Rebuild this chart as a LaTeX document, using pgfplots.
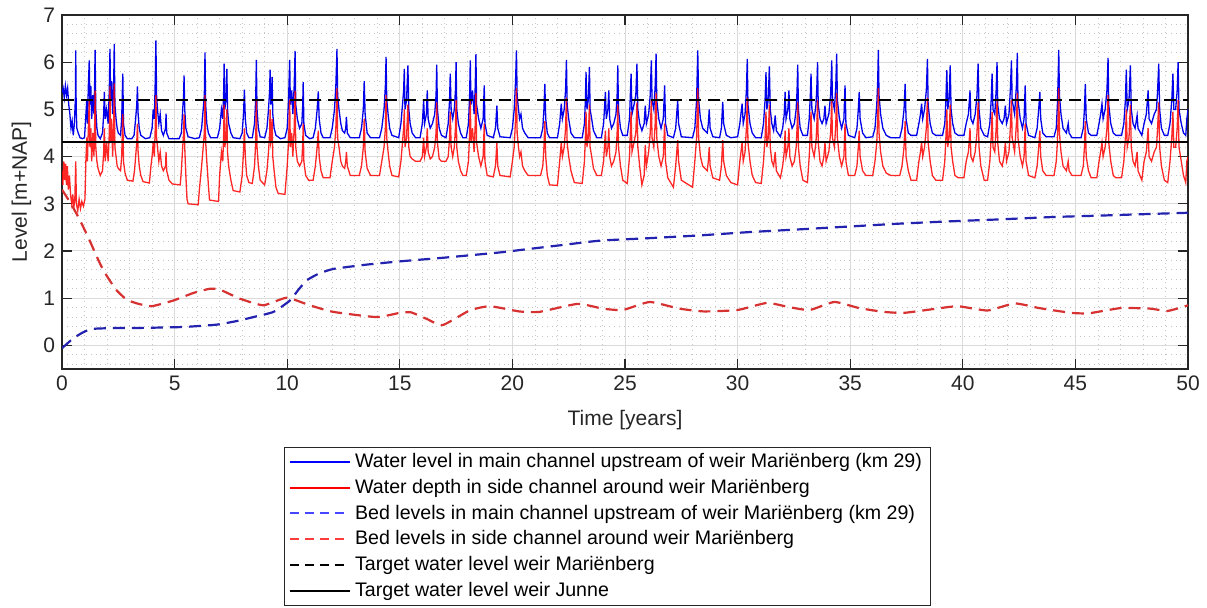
\documentclass[border=0pt]{standalone}
\usepackage{pgfplots}
\pgfplotsset{compat=1.18}
\usepackage{fontspec}
\setmainfont{Liberation Sans}
\definecolor{axgray}{RGB}{38,38,38}
\definecolor{gridgray}{RGB}{218,218,218}
\definecolor{mblue}{RGB}{0,0,235}
\definecolor{mred}{RGB}{255,0,0}
\definecolor{dblue}{RGB}{35,35,175}
\definecolor{dred}{RGB}{215,50,50}
\definecolor{lblue}{RGB}{70,70,255}
\definecolor{lred}{RGB}{255,60,60}
\begin{document}
\begin{tikzpicture}
\begin{axis}[
  name=ax,
  scale only axis,
  width=563pt, height=177pt,
  xmin=0, xmax=50, ymin=-0.5, ymax=7,
  xtick={0,5,...,50}, ytick={0,1,...,7},
  minor xtick={1,2,3,4,6,7,8,9,11,12,13,14,16,17,18,19,21,22,23,24,26,27,28,29,31,32,33,34,36,37,38,39,41,42,43,44,46,47,48,49},
  minor ytick={-0.4,-0.2,0.2,0.4,0.6,0.8,1.2,1.4,1.6,1.8,2.2,2.4,2.6,2.8,3.2,3.4,3.6,3.8,4.2,4.4,4.6,4.8,5.2,5.4,5.6,5.8,6.2,6.4,6.6,6.8},
  grid=both,
  major grid style={gridgray, line width=0.5pt},
  minor grid style={gray!45, dotted, line width=0.4pt},
  tick align=inside,
  major tick length=5pt, minor tick length=0pt,
  axis line style={axgray, line width=0.6pt},
  every tick/.style={axgray, line width=0.6pt},
  tick label style={font=\fontsize{10.5}{12}\selectfont, text=axgray},
  /pgf/number format/assume math mode=true,
  xlabel={Time [years]}, ylabel={Level [m+NAP]},
  label style={font=\fontsize{10.5}{12}\selectfont, text=axgray},
  xlabel style={at={(axis description cs:0.5,-0.144)}, anchor=center},
  ylabel style={at={(axis description cs:-0.036,0.5)}, anchor=center},
  legend style={at={(0.4845,-0.22)}, anchor=north, draw=axgray, line width=0.5pt,
    font=\fontsize{9.8}{11}\selectfont, row sep=0pt,
    nodes={inner sep=2.15pt}, inner xsep=2pt, inner ysep=0.8pt},
  legend cell align=left,
  legend image code/.code={\draw[#1] (0pt,0pt) -- (30pt,0pt);},
]
% Water level main channel
\addplot[mblue, line width=0.65pt, forget plot] coordinates {
(0,5.35) (0.05,5.45) (0.1,5.25) (0.15,5.5) (0.2,5.3) (0.25,5.45) (0.3,5.1) (0.35,4.9) (0.4,4.6) (0.45,4.75) (0.5,4.45) (0.55,4.7) (0.6,5.3) (0.61,6.25) (0.63,5.0) (0.66,4.6) (0.72,4.5) (0.8,4.4) (0.9,4.38)
(1.0,4.4) (1.05,4.8) (1.1,5.2) (1.13,4.7) (1.17,5.5) (1.21,6.04) (1.24,5.1) (1.28,5.5) (1.32,4.8) (1.37,5.3) (1.42,4.9) (1.45,5.6) (1.47,6.26) (1.5,5.0) (1.55,4.6) (1.6,4.45)
(1.7,4.38) (1.8,4.5) (1.85,4.9) (1.88,5.37) (1.92,4.8) (1.98,5.0) (2.05,4.7) (2.1,5.4) (2.13,6.28) (2.16,5.2) (2.2,5.6) (2.25,4.9) (2.3,5.7) (2.32,6.39) (2.35,5.1) (2.4,4.8) (2.45,4.6) (2.5,4.5) (2.6,4.45) (2.65,4.8) (2.7,5.76) (2.73,4.7) (2.8,4.45)
(2.9,4.38) (3.1,4.38)
(3.2,4.45) (3.27,4.8) (3.32,5.1) (3.35,5.49) (3.38,4.9) (3.43,4.6) (3.5,4.45) (3.7,4.38)
(3.9,4.4) (4.0,4.6) (4.05,5.0) (4.1,4.8) (4.14,5.6) (4.17,6.46) (4.2,5.3) (4.24,5.0) (4.3,4.7) (4.36,4.9) (4.42,4.55) (4.5,4.45) (4.6,4.6) (4.62,4.91) (4.65,4.5) (4.75,4.38)
(5.2,4.38) (5.3,4.5) (5.36,5.0) (5.4,5.3) (5.42,5.72) (5.45,5.0) (5.5,4.6) (5.6,4.42) (5.9,4.38)
(6.1,4.4) (6.2,4.6) (6.27,5.0) (6.32,5.3) (6.35,6.21) (6.38,5.1) (6.43,4.7) (6.5,4.5) (6.6,4.4)
(6.9,4.4) (7.0,4.6) (7.08,5.0) (7.14,4.8) (7.18,5.4) (7.20,5.97) (7.23,5.0) (7.28,5.2) (7.32,5.86) (7.35,5.0) (7.4,4.7) (7.5,4.5) (7.6,4.4)
(7.9,4.38) (8.0,4.5) (8.06,4.9) (8.10,5.42) (8.14,4.8) (8.2,4.5) (8.3,4.4)
(8.45,4.4) (8.55,4.7) (8.6,5.2) (8.63,6.05) (8.66,5.0) (8.72,4.6) (8.8,4.42)
(9.0,4.4) (9.1,4.6) (9.17,5.0) (9.22,5.4) (9.24,5.84) (9.27,5.1) (9.31,5.3) (9.33,5.69) (9.36,4.9) (9.42,4.6) (9.5,4.45) (9.7,4.38)
(9.9,4.4) (10.0,4.6) (10.06,5.2) (10.11,6.05) (10.14,5.1) (10.2,5.4) (10.25,4.9) (10.31,5.5) (10.35,6.24) (10.38,5.1) (10.45,4.8) (10.55,4.6) (10.65,4.7) (10.69,5.1) (10.71,5.58) (10.74,4.7) (10.82,4.45) (11.0,4.38)
(11.15,4.4) (11.25,4.6) (11.33,5.0) (11.38,5.38) (11.42,4.8) (11.5,4.5) (11.6,4.4)
(11.9,4.4) (12.0,4.6) (12.1,5.0) (12.16,5.5) (12.21,6.28) (12.24,5.3) (12.3,5.0) (12.38,4.7) (12.45,4.55) (12.55,4.5) (12.6,4.6) (12.63,4.84) (12.67,4.5) (12.8,4.4)
(13.2,4.4) (13.3,4.6) (13.38,5.0) (13.42,5.6) (13.46,4.9) (13.55,4.5) (13.7,4.4)
(14.1,4.4) (14.2,4.6) (14.3,5.0) (14.36,5.5) (14.39,6.11) (14.42,5.2) (14.48,4.9) (14.55,4.6) (14.65,4.45)
(14.95,4.4) (15.05,4.7) (15.12,5.1) (15.17,5.4) (15.2,5.86) (15.23,5.0) (15.3,5.2) (15.36,5.93) (15.4,5.0) (15.46,4.7) (15.55,4.5) (15.7,4.4)
(15.9,4.4) (16.0,4.7) (16.06,5.19) (16.1,4.7) (16.18,4.9) (16.22,5.4) (16.26,4.8) (16.35,4.6) (16.45,4.7) (16.55,4.9) (16.61,5.3) (16.64,5.95) (16.67,5.0) (16.75,4.6) (16.85,4.45)
(17.05,4.4) (17.15,4.7) (17.21,5.2) (17.24,5.76) (17.28,5.0) (17.35,4.8) (17.42,5.0) (17.47,5.4) (17.5,6.0) (17.53,5.0) (17.6,4.7) (17.7,4.5) (17.8,4.4)
(17.95,4.4) (18.05,4.7) (18.1,5.3) (18.13,6.04) (18.16,5.1) (18.23,5.4) (18.3,4.9) (18.35,5.5) (18.38,6.17) (18.41,5.1) (18.5,4.8) (18.6,4.6) (18.7,4.8) (18.75,5.51) (18.78,4.7) (18.88,4.45)
(19.15,4.4) (19.25,4.6) (19.31,5.08) (19.35,4.6) (19.45,4.42)
(19.9,4.4) (20.0,4.6) (20.08,5.0) (20.14,5.6) (20.18,6.25) (20.21,5.3) (20.27,5.0) (20.32,4.8) (20.38,4.9) (20.45,4.6) (20.55,4.5) (20.7,4.4)
(21.25,4.4) (21.35,4.6) (21.4,5.0) (21.44,5.54) (21.48,4.8) (21.55,4.5) (21.65,4.4)
(22.0,4.4) (22.1,4.7) (22.17,5.12) (22.22,4.8) (22.3,5.0) (22.36,5.4) (22.4,6.05) (22.43,5.1) (22.5,4.8) (22.6,4.5) (22.75,4.4)
(23.1,4.4) (23.2,4.7) (23.24,5.2) (23.27,5.79) (23.31,5.0) (23.37,5.2) (23.42,5.9) (23.45,5.0) (23.52,4.8) (23.6,4.55) (23.75,4.4)
(23.95,4.4) (24.05,4.7) (24.13,5.37) (24.17,4.8) (24.24,5.0) (24.28,5.4) (24.32,4.8) (24.4,4.6) (24.5,4.7) (24.6,4.9) (24.65,5.3) (24.68,5.93) (24.71,5.0) (24.8,4.6) (24.9,4.45)
(25.1,4.45) (25.2,4.8) (25.27,5.76) (25.31,4.9) (25.4,5.1) (25.48,5.3) (25.53,5.97) (25.57,5.0) (25.65,4.7) (25.75,4.55) (25.85,4.7) (25.9,5.08) (25.95,4.7) (26.05,4.9) (26.12,5.3) (26.17,6.04) (26.2,5.2) (26.28,5.0) (26.34,5.5) (26.38,6.18) (26.41,5.2) (26.5,4.8) (26.6,4.6) (26.7,4.8) (26.76,5.51) (26.8,4.7) (26.9,4.45)
(27.15,4.4) (27.25,4.6) (27.34,5.19) (27.38,4.7) (27.5,4.42)
(28.0,4.4) (28.1,4.6) (28.18,5.2) (28.23,6.25) (28.27,5.2) (28.35,4.8) (28.45,4.6)
(28.65,4.5) (28.7,4.7) (28.74,5.0) (28.78,4.6) (28.9,4.42)
(29.2,4.4) (29.28,4.6) (29.34,5.16) (29.38,4.7) (29.5,4.45) (29.7,4.4)
(30.0,4.42) (30.1,4.7) (30.2,5.12) (30.25,4.7) (30.33,4.9) (30.39,5.4) (30.43,6.07) (30.46,5.1) (30.55,4.7) (30.65,4.5) (30.8,4.4)
(31.05,4.4) (31.15,4.7) (31.22,5.2) (31.26,5.79) (31.3,5.0) (31.36,5.2) (31.41,5.91) (31.45,5.0) (31.52,4.7) (31.6,4.55) (31.67,4.87) (31.72,4.55)
(31.9,4.42) (32.0,4.6) (32.07,4.9) (32.11,5.37) (32.15,4.8) (32.23,5.0) (32.28,5.4) (32.32,4.8) (32.42,4.6) (32.52,4.7) (32.6,5.0) (32.64,5.4) (32.67,5.95) (32.7,5.0) (32.78,4.6) (32.9,4.45)
(33.1,4.45) (33.18,4.8) (33.23,5.3) (33.26,5.76) (33.3,5.0) (33.4,4.8) (33.48,5.1) (33.52,5.5) (33.55,6.0) (33.58,5.1) (33.66,4.8)
(33.75,4.7) (33.83,4.8) (33.88,5.08) (33.93,4.7) (34.05,4.9) (34.13,5.3) (34.18,6.04) (34.21,5.2) (34.3,5.0) (34.36,5.5) (34.4,6.18) (34.43,5.2) (34.52,4.8) (34.62,4.6) (34.72,4.8) (34.77,5.51) (34.81,4.7) (34.92,4.45)
(35.2,4.4) (35.3,4.6) (35.36,5.0) (35.4,5.37) (35.44,4.8) (35.55,4.5) (35.7,4.4)
(36.0,4.42) (36.1,4.6) (36.18,5.1) (36.22,5.6) (36.25,6.26) (36.28,5.3) (36.35,4.9) (36.45,4.6) (36.6,4.45) (36.8,4.4)
(37.2,4.4) (37.3,4.6) (37.39,5.0) (37.44,5.54) (37.48,4.8) (37.58,4.5) (37.7,4.45)
(37.95,4.45) (38.05,4.7) (38.12,4.9) (38.17,5.12) (38.22,4.8) (38.3,5.0) (38.38,5.4) (38.43,6.07) (38.46,5.1) (38.55,4.7) (38.65,4.5) (38.8,4.45)
(39.1,4.45) (39.2,4.7) (39.25,5.2) (39.29,5.83) (39.33,5.0) (39.39,5.2) (39.44,5.93) (39.48,5.0) (39.55,4.7) (39.65,4.5) (39.8,4.45)
(40.05,4.45) (40.15,4.7) (40.25,4.9) (40.32,5.4) (40.36,4.8) (40.45,4.7) (40.55,4.9) (40.63,5.3) (40.68,5.97) (40.72,5.0) (40.8,4.6) (40.95,4.45)
(41.1,4.42) (41.2,4.7) (41.26,5.2) (41.3,5.76) (41.34,5.0) (41.42,4.9) (41.48,5.4) (41.52,6.0) (41.55,5.1) (41.63,4.8)
(41.75,4.7) (41.83,4.8) (41.89,5.08) (41.94,4.7) (42.05,4.9) (42.11,5.4) (42.16,6.04) (42.19,5.2) (42.3,4.9) (42.38,5.5) (42.42,6.19) (42.45,5.2) (42.55,4.8) (42.65,4.6) (42.72,4.8) (42.77,5.51) (42.81,4.7) (42.92,4.45)
(43.2,4.4) (43.3,4.6) (43.37,5.0) (43.42,5.37) (43.46,4.8) (43.55,4.5) (43.7,4.42)
(44.05,4.42) (44.15,4.6) (44.2,5.1) (44.23,5.6) (44.26,6.26) (44.29,5.3) (44.36,4.9) (44.45,4.6) (44.6,4.5) (44.68,4.7) (44.72,4.5) (44.85,4.4)
(45.25,4.4) (45.35,4.6) (45.4,5.0) (45.44,5.54) (45.48,4.8) (45.58,4.5) (45.7,4.45)
(45.95,4.45) (46.05,4.7) (46.12,4.9) (46.18,5.12) (46.23,4.8) (46.32,5.0) (46.4,5.4) (46.45,6.09) (46.48,5.1) (46.57,4.7) (46.68,4.5) (46.8,4.45)
(47.05,4.45) (47.15,4.7) (47.22,5.2) (47.26,5.84) (47.3,5.0) (47.38,5.2) (47.44,5.93) (47.48,5.0) (47.56,4.7) (47.65,4.6) (47.74,4.87) (47.78,4.6)
(47.95,4.45) (48.05,4.7) (48.15,4.9) (48.23,5.4) (48.27,4.8) (48.38,4.7) (48.5,4.9) (48.6,5.0) (48.65,5.4) (48.7,5.97) (48.74,5.0) (48.82,4.6) (48.95,4.45)
(49.1,4.45) (49.2,4.7) (49.28,5.2) (49.33,5.76) (49.37,5.0) (49.45,5.0) (49.52,5.4) (49.56,6.0) (49.6,5.0) (49.7,4.7) (49.8,4.5) (49.9,4.45) (49.95,4.8) (50,5.0)
};
% Water depth side channel
\addplot[mred, line width=0.65pt, opacity=0.85, forget plot] coordinates {
(0,3.7) (0.04,3.4) (0.08,3.9) (0.12,3.5) (0.16,3.85) (0.2,3.4) (0.24,3.8) (0.28,3.3) (0.33,3.6) (0.38,3.2) (0.43,3.0) (0.48,3.2) (0.52,2.9) (0.57,3.1) (0.61,3.9) (0.64,3.0) (0.7,2.85) (0.76,3.1) (0.82,2.9) (0.88,3.05) (0.95,2.95) (1.02,3.1)
(1.06,3.9) (1.1,4.4) (1.13,3.9) (1.17,4.6) (1.21,5.2) (1.24,4.2) (1.28,4.6) (1.32,3.9) (1.37,4.5) (1.42,4.0) (1.45,4.7) (1.47,5.4) (1.5,4.2) (1.55,3.9) (1.6,3.75) (1.7,3.6) (1.8,3.7)
(1.85,4.1) (1.88,4.6) (1.92,3.9) (1.98,4.3) (2.05,3.9) (2.1,4.5) (2.13,5.5) (2.16,4.3) (2.2,4.8) (2.25,4.0) (2.3,4.8) (2.32,5.55) (2.35,4.2) (2.4,4.0) (2.45,3.8) (2.5,3.75) (2.6,3.7) (2.65,4.0) (2.7,4.9) (2.73,3.9) (2.8,3.65) (2.9,3.5) (3.15,3.48)
(3.22,3.7) (3.27,4.0) (3.32,4.3) (3.35,4.7) (3.38,4.1) (3.43,3.8) (3.5,3.6) (3.6,3.47) (3.88,3.44)
(3.95,3.8) (4.0,4.0) (4.05,4.3) (4.1,4.0) (4.14,4.6) (4.17,5.3) (4.2,4.4) (4.24,4.2) (4.3,3.9) (4.36,4.1) (4.42,3.8) (4.5,3.7) (4.6,3.8) (4.62,4.1) (4.65,3.7) (4.75,3.5) (4.9,3.42) (5.25,3.4)
(5.3,3.7) (5.36,4.2) (5.4,4.5) (5.42,4.9) (5.45,4.2) (5.5,3.6) (5.55,3.1) (5.6,3.0) (6.05,2.98) (6.1,3.3)
(6.2,3.8) (6.27,4.2) (6.32,4.5) (6.35,5.3) (6.38,4.3) (6.43,3.9) (6.5,3.4) (6.55,3.08) (6.95,3.05)
(7.0,3.6) (7.08,4.1) (7.14,3.9) (7.18,4.5) (7.2,5.1) (7.23,4.2) (7.28,4.4) (7.32,5.0) (7.35,4.1) (7.4,3.8) (7.5,3.5) (7.6,3.28) (7.9,3.25)
(8.0,3.6) (8.06,4.1) (8.1,4.6) (8.14,4.0) (8.2,3.6) (8.3,3.45) (8.45,3.43)
(8.55,3.8) (8.6,4.3) (8.63,5.2) (8.66,4.2) (8.72,3.8) (8.8,3.5) (9.0,3.4)
(9.1,3.7) (9.17,4.1) (9.22,4.5) (9.24,5.0) (9.27,4.3) (9.31,4.4) (9.33,4.8) (9.36,4.0) (9.42,3.7) (9.5,3.35) (9.6,3.22) (9.9,3.2)
(10.0,3.8) (10.06,4.3) (10.11,5.2) (10.14,4.2) (10.2,4.5) (10.25,4.0) (10.31,4.6) (10.35,5.4) (10.38,4.2) (10.45,3.9) (10.55,3.8) (10.65,3.9) (10.69,4.3) (10.71,4.7) (10.74,3.9) (10.82,3.6) (10.95,3.5) (11.15,3.5)
(11.25,3.8) (11.33,4.2) (11.38,4.55) (11.42,4.0) (11.5,3.7) (11.6,3.55) (11.9,3.55)
(12.0,3.9) (12.1,4.2) (12.16,4.6) (12.21,5.45) (12.24,4.4) (12.3,4.2) (12.38,3.9) (12.45,3.8) (12.55,3.75) (12.6,3.9) (12.63,4.1) (12.67,3.8) (12.8,3.6) (13.2,3.6)
(13.3,3.8) (13.38,4.2) (13.42,4.8) (13.46,4.1) (13.55,3.75) (13.7,3.6) (14.1,3.6)
(14.2,3.9) (14.3,4.2) (14.36,4.6) (14.39,5.3) (14.42,4.4) (14.48,4.1) (14.55,3.8) (14.65,3.6) (14.95,3.57)
(15.05,3.9) (15.12,4.3) (15.17,4.6) (15.2,5.0) (15.23,4.2) (15.3,4.4) (15.36,5.1) (15.4,4.2) (15.46,4.0) (15.55,3.95) (15.7,3.9) (15.9,3.9)
(16.0,4.0) (16.06,4.4) (16.1,4.0) (16.18,4.2) (16.22,4.6) (16.26,4.1) (16.35,3.95) (16.45,4.0) (16.55,4.2) (16.61,4.5) (16.64,5.15) (16.67,4.3) (16.75,3.95) (16.85,3.9) (17.05,3.9)
(17.15,4.0) (17.21,4.4) (17.24,4.95) (17.28,4.2) (17.35,4.0) (17.42,4.2) (17.47,4.6) (17.5,5.2) (17.53,4.2) (17.6,3.9) (17.7,3.7) (17.8,3.6) (17.95,3.6)
(18.05,3.9) (18.1,4.5) (18.13,5.2) (18.16,4.3) (18.23,4.6) (18.3,4.1) (18.35,4.7) (18.38,5.35) (18.41,4.3) (18.5,4.0) (18.6,3.8) (18.7,4.0) (18.75,4.7) (18.78,3.9) (18.88,3.6) (19.15,3.57)
(19.25,3.8) (19.31,4.3) (19.35,3.8) (19.45,3.6) (19.9,3.57)
(20.0,3.9) (20.08,4.2) (20.14,4.8) (20.18,5.45) (20.21,4.5) (20.27,4.2) (20.32,4.0) (20.38,4.1) (20.45,3.8) (20.55,3.7) (20.7,3.6) (21.25,3.6)
(21.35,3.8) (21.4,4.2) (21.44,4.75) (21.48,4.0) (21.55,3.6) (21.65,3.4) (22.0,3.39)
(22.1,3.9) (22.17,4.3) (22.22,4.0) (22.3,4.2) (22.36,4.6) (22.4,5.25) (22.43,4.3) (22.5,4.0) (22.6,3.7) (22.75,3.45) (23.1,3.43)
(23.2,3.9) (23.24,4.4) (23.27,4.95) (23.31,4.2) (23.37,4.4) (23.42,5.1) (23.45,4.2) (23.52,4.0) (23.6,3.75) (23.75,3.6) (23.95,3.6)
(24.05,3.9) (24.13,4.55) (24.17,4.0) (24.24,4.2) (24.28,4.6) (24.32,4.0) (24.4,3.8) (24.5,3.9) (24.6,4.1) (24.65,4.5) (24.68,5.1) (24.71,4.2) (24.8,3.8) (24.9,3.5) (25.1,3.43)
(25.2,4.0) (25.27,4.95) (25.31,4.1) (25.4,4.3) (25.48,4.5) (25.53,5.15) (25.57,4.2) (25.65,3.8) (25.75,3.4) (25.85,3.6) (25.9,4.25) (25.95,3.8) (26.05,4.1) (26.12,4.5) (26.17,5.2) (26.2,4.4) (26.28,4.2) (26.34,4.7) (26.38,5.35) (26.41,4.4) (26.5,4.0) (26.6,3.8) (26.7,4.0) (26.76,4.7) (26.8,3.9) (26.9,3.55) (27.15,3.35)
(27.25,3.8) (27.34,4.35) (27.38,3.9) (27.5,3.5) (28.0,3.35)
(28.1,3.9) (28.18,4.4) (28.23,5.45) (28.27,4.4) (28.35,4.0) (28.45,3.8) (28.65,3.7) (28.7,3.9) (28.74,4.2) (28.78,3.8) (28.9,3.55) (29.2,3.5)
(29.28,3.8) (29.34,4.35) (29.38,3.9) (29.5,3.6) (29.7,3.45) (30.0,3.4)
(30.1,3.9) (30.2,4.3) (30.25,3.9) (30.33,4.1) (30.39,4.6) (30.43,5.25) (30.46,4.3) (30.55,3.9) (30.65,3.6) (30.8,3.45) (31.05,3.43)
(31.15,3.9) (31.22,4.4) (31.26,4.95) (31.3,4.2) (31.36,4.4) (31.41,5.1) (31.45,4.2) (31.52,3.9) (31.6,3.8) (31.67,4.1) (31.72,3.7) (31.9,3.55)
(32.0,3.8) (32.07,4.1) (32.11,4.55) (32.15,4.0) (32.23,4.2) (32.28,4.6) (32.32,4.0) (32.42,3.8) (32.52,3.9) (32.6,4.2) (32.64,4.6) (32.67,5.15) (32.7,4.2) (32.78,3.8) (32.9,3.5) (33.1,3.45)
(33.18,4.0) (33.23,4.5) (33.26,4.95) (33.3,4.2) (33.4,4.0) (33.48,4.3) (33.52,4.7) (33.55,5.2) (33.58,4.3) (33.66,3.9) (33.75,3.8)
(33.83,4.0) (33.88,4.3) (33.93,3.9) (34.05,4.1) (34.13,4.5) (34.18,5.2) (34.21,4.4) (34.3,4.2) (34.36,4.7) (34.4,5.35) (34.43,4.4) (34.52,4.0) (34.62,3.8) (34.72,4.0) (34.77,4.7) (34.81,3.9) (34.92,3.6) (35.2,3.6)
(35.3,3.8) (35.36,4.2) (35.4,4.55) (35.44,4.0) (35.55,3.7) (35.7,3.6) (36.0,3.6)
(36.1,3.9) (36.18,4.3) (36.22,4.8) (36.25,5.45) (36.28,4.5) (36.35,4.1) (36.45,3.8) (36.6,3.65) (36.8,3.6) (37.2,3.6)
(37.3,3.8) (37.39,4.2) (37.44,4.75) (37.48,4.0) (37.58,3.7) (37.7,3.5) (37.95,3.5)
(38.05,3.9) (38.12,4.1) (38.17,4.3) (38.22,4.0) (38.3,4.2) (38.38,4.6) (38.43,5.25) (38.46,4.3) (38.55,3.9) (38.65,3.6) (38.8,3.5) (39.1,3.5)
(39.2,3.9) (39.25,4.4) (39.29,5.0) (39.33,4.2) (39.39,4.4) (39.44,5.1) (39.48,4.2) (39.55,3.9) (39.65,3.6) (39.8,3.55) (40.05,3.55)
(40.15,3.9) (40.25,4.1) (40.32,4.6) (40.36,4.0) (40.45,3.9) (40.55,4.1) (40.63,4.5) (40.68,5.15) (40.72,4.2) (40.8,3.8) (40.95,3.5) (41.1,3.5)
(41.2,3.9) (41.26,4.4) (41.3,4.95) (41.34,4.2) (41.42,4.1) (41.48,4.6) (41.52,5.2) (41.55,4.3) (41.63,3.9) (41.75,3.8)
(41.83,4.0) (41.89,4.3) (41.94,3.9) (42.05,4.1) (42.11,4.6) (42.16,5.2) (42.19,4.4) (42.3,4.1) (42.38,4.7) (42.42,5.35) (42.45,4.4) (42.55,4.0) (42.65,3.8) (42.72,4.0) (42.77,4.7) (42.81,3.9) (42.92,3.6) (43.2,3.55)
(43.3,3.8) (43.37,4.2) (43.42,4.55) (43.46,4.0) (43.55,3.7) (43.7,3.6) (44.05,3.6)
(44.15,3.9) (44.2,4.3) (44.23,4.8) (44.26,5.45) (44.29,4.5) (44.36,4.1) (44.45,3.8) (44.6,3.7) (44.68,3.9) (44.72,3.7) (44.85,3.6) (45.25,3.6)
(45.35,3.8) (45.4,4.2) (45.44,4.75) (45.48,4.0) (45.58,3.7) (45.7,3.55) (45.95,3.55)
(46.05,3.9) (46.12,4.1) (46.18,4.3) (46.23,4.0) (46.32,4.2) (46.4,4.6) (46.45,5.3) (46.48,4.3) (46.57,3.9) (46.68,3.6) (46.8,3.55) (47.05,3.55)
(47.15,3.9) (47.22,4.4) (47.26,5.0) (47.3,4.2) (47.38,4.4) (47.44,5.1) (47.48,4.2) (47.56,3.9) (47.65,3.8) (47.74,4.1) (47.78,3.7) (47.95,3.5)
(48.05,3.9) (48.15,4.1) (48.23,4.6) (48.27,4.0) (48.38,3.9) (48.5,4.1) (48.6,4.2) (48.65,4.6) (48.7,5.15) (48.74,4.2) (48.82,3.8) (48.95,3.5) (49.1,3.45)
(49.2,3.9) (49.28,4.4) (49.33,4.95) (49.37,4.2) (49.45,4.2) (49.52,4.6) (49.56,5.2) (49.6,4.2) (49.7,3.9) (49.8,3.6) (49.9,3.45) (49.95,3.9) (50,4.0)
};
% Bed level main channel
\addplot[dblue, line width=1.1pt, dash pattern=on 6pt off 3.5pt, smooth, tension=0.3, forget plot] coordinates {
(0,-0.06) (0.5,0.15) (0.95,0.28) (1.35,0.35) (2.5,0.37) (3.46,0.37) (5.38,0.39) (6.87,0.44) (7.8,0.52) (8.5,0.6) (9.39,0.71) (10.12,0.95) (10.5,1.18) (10.87,1.38) (11.4,1.52) (12.05,1.62) (13.5,1.71) (15.0,1.78) (17.0,1.86) (19.45,1.97) (20.5,2.03) (22.1,2.12) (23.9,2.22) (26.0,2.27) (28.3,2.33) (30.5,2.4) (32.8,2.46) (35.0,2.52) (37.2,2.58) (39.5,2.63) (41.65,2.67) (44.0,2.72) (46.1,2.75) (48.0,2.78) (50,2.81)
};
% Bed level side channel
\addplot[dred, line width=1.1pt, dash pattern=on 6pt off 3.5pt, smooth, tension=0.3, forget plot] coordinates {
(0,3.3) (0.4,3.0) (0.8,2.65) (1.2,2.25) (1.69,1.73) (1.98,1.48) (2.4,1.18) (2.87,0.97) (3.4,0.88) (3.98,0.83) (4.94,0.95) (5.83,1.11) (6.57,1.2) (7.02,1.18) (7.9,0.99) (8.94,0.85) (9.98,1.01) (11.0,0.85) (12.05,0.71) (13.97,0.6) (15.0,0.69) (15.5,0.7) (16.2,0.56) (16.9,0.43) (18.1,0.74) (19.0,0.83) (20.3,0.72) (21.2,0.71) (22.9,0.88) (24.0,0.78) (24.9,0.75) (26.1,0.92) (27.4,0.78) (28.5,0.72) (30.0,0.75) (31.3,0.9) (32.3,0.81) (33.2,0.75) (34.3,0.92) (35.4,0.79) (36.5,0.71) (37.4,0.69) (39.0,0.79) (39.8,0.83) (41.1,0.74) (42.3,0.89) (43.4,0.79) (44.8,0.69) (45.6,0.68) (47.0,0.79) (48.3,0.78) (49.1,0.73) (50,0.85)
};
\addplot[black, line width=1pt, dash pattern=on 6pt off 3.5pt, forget plot] coordinates {(0,5.2) (50,5.2)};
\addplot[black, line width=1pt, forget plot] coordinates {(0,4.3) (50,4.3)};
\addlegendimage{blue, line width=0.9pt}
\addlegendentry{Water level in main channel upstream of weir Mariënberg (km 29)}
\addlegendimage{mred, line width=1pt}
\addlegendentry{Water depth in side channel around weir Mariënberg}
\addlegendimage{lblue, line width=1pt, dash pattern=on 4.5pt off 3pt}
\addlegendentry{Bed levels in main channel upstream of weir Mariënberg (km 29)}
\addlegendimage{lred, line width=1pt, dash pattern=on 4.5pt off 3pt}
\addlegendentry{Bed levels in side channel around weir Mariënberg}
\addlegendimage{black, line width=1pt, dash pattern=on 4.5pt off 3pt}
\addlegendentry{Target water level weir Mariënberg}
\addlegendimage{black, line width=1pt}
\addlegendentry{Target water level weir Junne}
\end{axis}
\pgfresetboundingbox
\path ([xshift=-31pt,yshift=-119.5pt]ax.south west) rectangle ([xshift=9.5pt,yshift=7.5pt]ax.north east);
\end{tikzpicture}
\end{document}
